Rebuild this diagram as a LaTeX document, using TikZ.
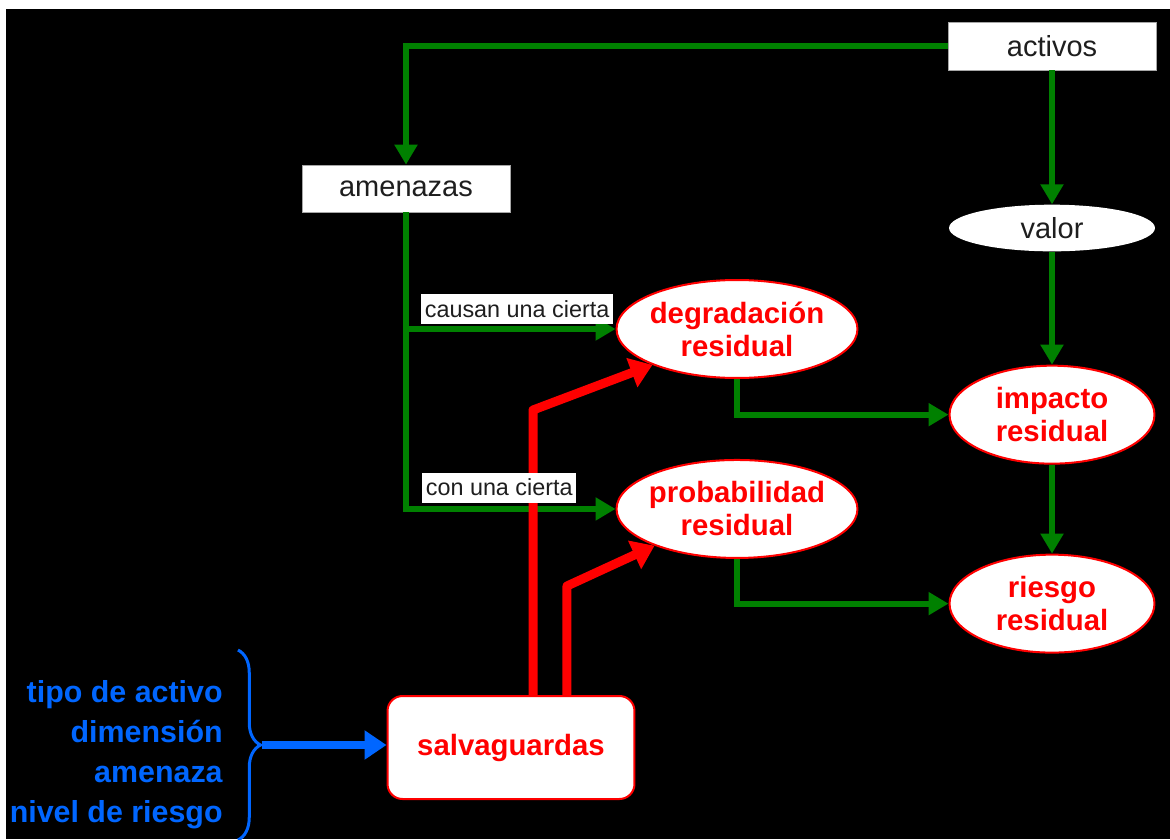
\documentclass[tikz,border=0pt]{standalone}
\usepackage{fontspec}
\setmainfont{Liberation Sans}
\usepackage{xcolor}
\usetikzlibrary{positioning,shapes.geometric,arrows.meta,decorations.pathreplacing}
\definecolor{grn}{RGB}{0,128,0}
\definecolor{rd}{RGB}{255,0,0}
\definecolor{blu}{RGB}{0,102,255}
\definecolor{txt}{RGB}{30,30,30}

\begin{document}
\begin{tikzpicture}[
    x=0.02cm, y=-0.02cm,
    box/.style={rectangle, draw=gray!70, fill=white, text=txt, minimum width=4.16cm, minimum height=0.96cm, font=\fontsize{16.5}{19}\selectfont},
    oval/.style={ellipse, fill=white, text=txt, minimum width=4.12cm, minimum height=0.9cm, font=\fontsize{16.5}{19}\selectfont},
    resid/.style={ellipse, draw=rd, line width=0.04cm, fill=white, text=rd, align=center, inner xsep=-2pt, inner ysep=0pt, minimum width=4.1cm, minimum height=1.96cm, font=\bfseries\fontsize{16.7}{18.8}\selectfont},
    lbl/.style={fill=white, text=txt, inner xsep=2pt, inner ysep=0pt, minimum height=0.6cm, font=\fontsize{13.3}{15}\selectfont},
    garrow/.style={draw=grn, line width=0.12cm, -{Triangle[length=0.4cm, width=0.44cm]}},
    rarrow/.style={draw=rd, line width=0.18cm, line join=round, -{Triangle[length=0.44cm, width=0.6cm]}},
    barrow/.style={draw=blu, line width=0.16cm, -{Triangle[length=0.44cm, width=0.56cm]}}
]

% background
\fill[white] (0,0) rectangle (1170,839);
\useasboundingbox (0,0) rectangle (1170,839);
\fill[black] (6,9) rectangle (1170,839);

\node[box] (activos) at (1052,46) {activos};
\node[box, minimum height=0.94cm] (amenazas) at (406,188.5) {amenazas};
\node[oval, below=2.68cm of activos] (valor) {valor};
\node[resid, below=2.26cm of valor] (impacto) {impacto\\residual};
\node[resid, below=1.78cm of impacto] (riesgo) {riesgo\\residual};
\node[resid, minimum width=4.82cm] (degr) at (737,329) {degradación\\residual};
\node[resid, minimum width=4.82cm, below=1.6cm of degr] (prob) {probabilidad\\residual};
\node[draw=rd, line width=0.04cm, fill=white, rounded corners=0.3cm, minimum width=4.94cm, minimum height=2.06cm, text=rd, font=\bfseries\fontsize{16.7}{19}\selectfont] (salv) at (511,747.5) {salvaguardas};

\node[text=blu, align=right, anchor=east, inner sep=0pt, font=\bfseries\fontsize{17.3}{22.8}\selectfont] (tipos) at (223,755) {tipo de activo\\dimensión\\amenaza\\nivel de riesgo};

% brace
\draw[blu, line width=0.06cm, decorate, decoration={brace, amplitude=0.45cm}] (238,650) -- (238,840);
\coordinate (tip) at (262,745);

\coordinate (ca) at (amenazas.south |- degr.west);
\coordinate (cb) at (amenazas.south |- prob.west);

\draw[garrow] (activos.west) -| (amenazas.north);
\draw[garrow] (activos.south) -- (valor.north);
\draw[garrow] (valor.south) -- (impacto.north);
\draw[garrow] (impacto.south) -- (riesgo.north);
\draw[garrow] (amenazas.south) |- (prob.west);
\draw[garrow] (ca) -- (degr.west);
\draw[garrow] (degr.south) |- (impacto.west);
\draw[garrow] (prob.south) |- (riesgo.west);

\draw[rarrow] ([xshift=0.44cm]salv.north) -- ++(0,-285) -- (degr.203);
\draw[rarrow] ([xshift=1.12cm]salv.north) -- ++(0,-109) -- (prob.204);

\draw[barrow] (tip) -- (tip -| salv.west);

\node[lbl, above right=0.1cm and 0.3cm of ca] (causan) {causan una cierta};
\node[lbl, above right=0.12cm and 0.32cm of cb] (con) {con una cierta};

\end{tikzpicture}
\end{document}
